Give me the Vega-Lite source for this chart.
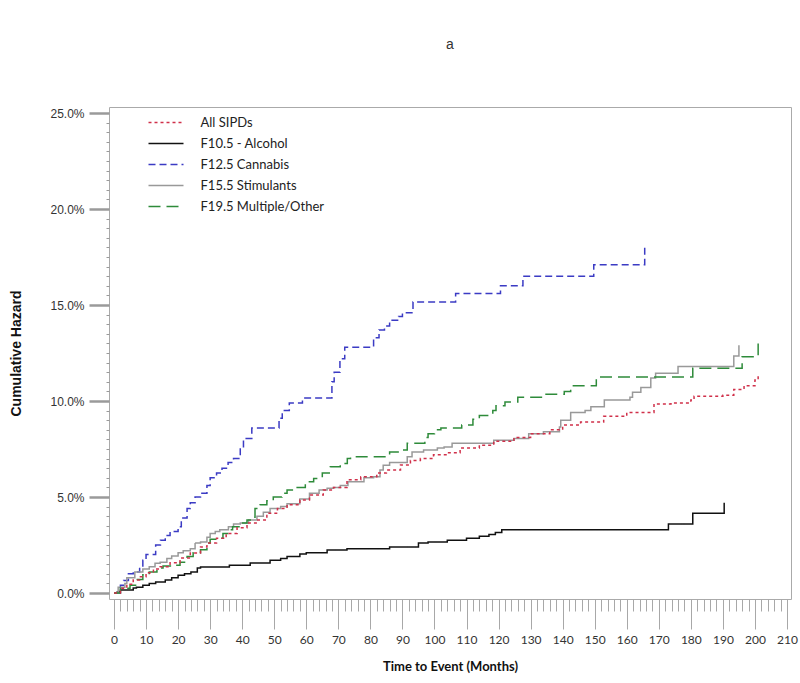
{
  "$schema": "https://vega.github.io/schema/vega-lite/v6.json",
  "width": 682,
  "height": 492,
  "autosize": {"type": "none"},
  "padding": {"left": 109, "top": 107, "right": 9, "bottom": 84},
  "background": "white",
  "title": {"text": "a", "anchor": "middle", "frame": "group", "font": "Liberation Sans", "fontSize": 14, "fontWeight": "normal", "color": "#333333", "offset": 55},
  "config": {
    "view": {"stroke": "#aaaaaa", "strokeWidth": 1},
    "axis": {"grid": false, "domain": false, "labelOverlap": false, "labelFlush": false, "labelBound": false}
  },
  "data": {"values": [
    {"g":"F12.5 Cannabis","t":0,"v":0},{"g":"F12.5 Cannabis","t":2,"v":0.4},{"g":"F12.5 Cannabis","t":3,"v":0.65},{"g":"F12.5 Cannabis","t":4.5,"v":1.0},{"g":"F12.5 Cannabis","t":6,"v":1.1},{"g":"F12.5 Cannabis","t":8,"v":1.35},{"g":"F12.5 Cannabis","t":9,"v":1.7},{"g":"F12.5 Cannabis","t":10,"v":2.0},{"g":"F12.5 Cannabis","t":13,"v":2.5},{"g":"F12.5 Cannabis","t":14.5,"v":2.75},{"g":"F12.5 Cannabis","t":16,"v":3.0},{"g":"F12.5 Cannabis","t":17.5,"v":3.2},{"g":"F12.5 Cannabis","t":20,"v":3.45},{"g":"F12.5 Cannabis","t":21,"v":3.9},{"g":"F12.5 Cannabis","t":22.8,"v":4.4},{"g":"F12.5 Cannabis","t":23.8,"v":4.7},{"g":"F12.5 Cannabis","t":25.3,"v":5.0},{"g":"F12.5 Cannabis","t":27,"v":5.2},{"g":"F12.5 Cannabis","t":29,"v":5.6},{"g":"F12.5 Cannabis","t":30,"v":6.0},{"g":"F12.5 Cannabis","t":32,"v":6.25},{"g":"F12.5 Cannabis","t":33.7,"v":6.5},{"g":"F12.5 Cannabis","t":35.6,"v":6.8},{"g":"F12.5 Cannabis","t":37.3,"v":7.0},{"g":"F12.5 Cannabis","t":39.4,"v":7.55},{"g":"F12.5 Cannabis","t":40.4,"v":8.05},{"g":"F12.5 Cannabis","t":43,"v":8.6},{"g":"F12.5 Cannabis","t":51.5,"v":9.1},{"g":"F12.5 Cannabis","t":52.5,"v":9.5},{"g":"F12.5 Cannabis","t":54.7,"v":9.9},{"g":"F12.5 Cannabis","t":58.8,"v":10.15},{"g":"F12.5 Cannabis","t":68,"v":11.0},{"g":"F12.5 Cannabis","t":68.7,"v":11.5},{"g":"F12.5 Cannabis","t":70.5,"v":12.2},{"g":"F12.5 Cannabis","t":72,"v":12.8},{"g":"F12.5 Cannabis","t":81,"v":13.3},{"g":"F12.5 Cannabis","t":82.7,"v":13.7},{"g":"F12.5 Cannabis","t":84.4,"v":13.9},{"g":"F12.5 Cannabis","t":86,"v":14.2},{"g":"F12.5 Cannabis","t":88.8,"v":14.4},{"g":"F12.5 Cannabis","t":90,"v":14.6},{"g":"F12.5 Cannabis","t":93.3,"v":15.15},{"g":"F12.5 Cannabis","t":106.6,"v":15.6},{"g":"F12.5 Cannabis","t":120.6,"v":16.0},{"g":"F12.5 Cannabis","t":127.6,"v":16.5},{"g":"F12.5 Cannabis","t":149.7,"v":17.1},{"g":"F12.5 Cannabis","t":165.6,"v":18.0},

    {"g":"F10.5 - Alcohol","t":0,"v":0},{"g":"F10.5 - Alcohol","t":1,"v":0.05},{"g":"F10.5 - Alcohol","t":2,"v":0.15},{"g":"F10.5 - Alcohol","t":6,"v":0.26},{"g":"F10.5 - Alcohol","t":7,"v":0.3},{"g":"F10.5 - Alcohol","t":9,"v":0.4},{"g":"F10.5 - Alcohol","t":11,"v":0.5},{"g":"F10.5 - Alcohol","t":13,"v":0.57},{"g":"F10.5 - Alcohol","t":16,"v":0.68},{"g":"F10.5 - Alcohol","t":18,"v":0.8},{"g":"F10.5 - Alcohol","t":20,"v":0.93},{"g":"F10.5 - Alcohol","t":22,"v":1.0},{"g":"F10.5 - Alcohol","t":24,"v":1.1},{"g":"F10.5 - Alcohol","t":26,"v":1.3},{"g":"F10.5 - Alcohol","t":27,"v":1.35},{"g":"F10.5 - Alcohol","t":36,"v":1.45},{"g":"F10.5 - Alcohol","t":42.5,"v":1.56},{"g":"F10.5 - Alcohol","t":48.7,"v":1.7},{"g":"F10.5 - Alcohol","t":52,"v":1.8},{"g":"F10.5 - Alcohol","t":54,"v":1.9},{"g":"F10.5 - Alcohol","t":58,"v":2.03},{"g":"F10.5 - Alcohol","t":60,"v":2.1},{"g":"F10.5 - Alcohol","t":66.5,"v":2.24},{"g":"F10.5 - Alcohol","t":72.7,"v":2.3},{"g":"F10.5 - Alcohol","t":86,"v":2.4},{"g":"F10.5 - Alcohol","t":95,"v":2.6},{"g":"F10.5 - Alcohol","t":98,"v":2.65},{"g":"F10.5 - Alcohol","t":104,"v":2.75},{"g":"F10.5 - Alcohol","t":110,"v":2.85},{"g":"F10.5 - Alcohol","t":114,"v":2.95},{"g":"F10.5 - Alcohol","t":117,"v":3.05},{"g":"F10.5 - Alcohol","t":119,"v":3.15},{"g":"F10.5 - Alcohol","t":121,"v":3.3},{"g":"F10.5 - Alcohol","t":173,"v":3.6},{"g":"F10.5 - Alcohol","t":180.6,"v":4.15},{"g":"F10.5 - Alcohol","t":190.4,"v":4.7},

    {"g":"F15.5 Stimulants","t":0,"v":0},{"g":"F15.5 Stimulants","t":1.3,"v":0.3},{"g":"F15.5 Stimulants","t":3.4,"v":0.5},{"g":"F15.5 Stimulants","t":4,"v":0.8},{"g":"F15.5 Stimulants","t":6.5,"v":1.1},{"g":"F15.5 Stimulants","t":9,"v":1.25},{"g":"F15.5 Stimulants","t":11,"v":1.37},{"g":"F15.5 Stimulants","t":12.8,"v":1.55},{"g":"F15.5 Stimulants","t":14.4,"v":1.6},{"g":"F15.5 Stimulants","t":16.5,"v":1.8},{"g":"F15.5 Stimulants","t":18,"v":1.93},{"g":"F15.5 Stimulants","t":20,"v":2.1},{"g":"F15.5 Stimulants","t":21.6,"v":2.2},{"g":"F15.5 Stimulants","t":23.8,"v":2.3},{"g":"F15.5 Stimulants","t":25.3,"v":2.6},{"g":"F15.5 Stimulants","t":27,"v":2.65},{"g":"F15.5 Stimulants","t":29,"v":2.9},{"g":"F15.5 Stimulants","t":30,"v":3.1},{"g":"F15.5 Stimulants","t":31.6,"v":3.2},{"g":"F15.5 Stimulants","t":33,"v":3.3},{"g":"F15.5 Stimulants","t":35.7,"v":3.45},{"g":"F15.5 Stimulants","t":37.3,"v":3.6},{"g":"F15.5 Stimulants","t":39.4,"v":3.65},{"g":"F15.5 Stimulants","t":42,"v":3.8},{"g":"F15.5 Stimulants","t":44.6,"v":4.0},{"g":"F15.5 Stimulants","t":46.6,"v":4.2},{"g":"F15.5 Stimulants","t":48.7,"v":4.4},{"g":"F15.5 Stimulants","t":52,"v":4.5},{"g":"F15.5 Stimulants","t":54,"v":4.65},{"g":"F15.5 Stimulants","t":58,"v":4.9},{"g":"F15.5 Stimulants","t":61,"v":5.2},{"g":"F15.5 Stimulants","t":64,"v":5.36},{"g":"F15.5 Stimulants","t":66.5,"v":5.45},{"g":"F15.5 Stimulants","t":68.5,"v":5.5},{"g":"F15.5 Stimulants","t":70.6,"v":5.6},{"g":"F15.5 Stimulants","t":73,"v":5.8},{"g":"F15.5 Stimulants","t":78,"v":6.0},{"g":"F15.5 Stimulants","t":81,"v":6.05},{"g":"F15.5 Stimulants","t":83,"v":6.4},{"g":"F15.5 Stimulants","t":84,"v":6.65},{"g":"F15.5 Stimulants","t":86,"v":6.8},{"g":"F15.5 Stimulants","t":91.5,"v":7.1},{"g":"F15.5 Stimulants","t":93,"v":7.35},{"g":"F15.5 Stimulants","t":96.6,"v":7.45},{"g":"F15.5 Stimulants","t":100.9,"v":7.55},{"g":"F15.5 Stimulants","t":103,"v":7.6},{"g":"F15.5 Stimulants","t":105.5,"v":7.8},{"g":"F15.5 Stimulants","t":118.5,"v":7.95},{"g":"F15.5 Stimulants","t":124.8,"v":8.05},{"g":"F15.5 Stimulants","t":129.4,"v":8.3},{"g":"F15.5 Stimulants","t":134,"v":8.4},{"g":"F15.5 Stimulants","t":139,"v":8.65},{"g":"F15.5 Stimulants","t":139.4,"v":9.0},{"g":"F15.5 Stimulants","t":142.5,"v":9.4},{"g":"F15.5 Stimulants","t":147,"v":9.5},{"g":"F15.5 Stimulants","t":148.8,"v":9.7},{"g":"F15.5 Stimulants","t":153,"v":10.05},{"g":"F15.5 Stimulants","t":161,"v":10.2},{"g":"F15.5 Stimulants","t":161.8,"v":10.45},{"g":"F15.5 Stimulants","t":164.4,"v":10.7},{"g":"F15.5 Stimulants","t":167.5,"v":11.2},{"g":"F15.5 Stimulants","t":169,"v":11.45},{"g":"F15.5 Stimulants","t":176,"v":11.8},{"g":"F15.5 Stimulants","t":193.4,"v":12.35},{"g":"F15.5 Stimulants","t":195,"v":12.9},

    {"g":"F19.5 Multiple/Other","t":0,"v":0},{"g":"F19.5 Multiple/Other","t":2,"v":0.25},{"g":"F19.5 Multiple/Other","t":5,"v":0.4},{"g":"F19.5 Multiple/Other","t":7,"v":0.7},{"g":"F19.5 Multiple/Other","t":9,"v":0.95},{"g":"F19.5 Multiple/Other","t":11,"v":1.1},{"g":"F19.5 Multiple/Other","t":13.4,"v":1.3},{"g":"F19.5 Multiple/Other","t":15.3,"v":1.4},{"g":"F19.5 Multiple/Other","t":18,"v":1.45},{"g":"F19.5 Multiple/Other","t":20.6,"v":1.6},{"g":"F19.5 Multiple/Other","t":22.8,"v":1.9},{"g":"F19.5 Multiple/Other","t":24.7,"v":2.1},{"g":"F19.5 Multiple/Other","t":27,"v":2.25},{"g":"F19.5 Multiple/Other","t":29,"v":2.6},{"g":"F19.5 Multiple/Other","t":30,"v":2.8},{"g":"F19.5 Multiple/Other","t":32,"v":2.85},{"g":"F19.5 Multiple/Other","t":34,"v":3.1},{"g":"F19.5 Multiple/Other","t":36,"v":3.3},{"g":"F19.5 Multiple/Other","t":37,"v":3.45},{"g":"F19.5 Multiple/Other","t":39.4,"v":3.65},{"g":"F19.5 Multiple/Other","t":41.5,"v":3.8},{"g":"F19.5 Multiple/Other","t":43.5,"v":3.95},{"g":"F19.5 Multiple/Other","t":44,"v":4.4},{"g":"F19.5 Multiple/Other","t":45.6,"v":4.6},{"g":"F19.5 Multiple/Other","t":47.7,"v":4.8},{"g":"F19.5 Multiple/Other","t":49.7,"v":5.0},{"g":"F19.5 Multiple/Other","t":52.4,"v":5.2},{"g":"F19.5 Multiple/Other","t":54,"v":5.36},{"g":"F19.5 Multiple/Other","t":56.6,"v":5.5},{"g":"F19.5 Multiple/Other","t":59.7,"v":5.8},{"g":"F19.5 Multiple/Other","t":62.3,"v":5.97},{"g":"F19.5 Multiple/Other","t":65,"v":6.25},{"g":"F19.5 Multiple/Other","t":67.5,"v":6.57},{"g":"F19.5 Multiple/Other","t":70.6,"v":6.75},{"g":"F19.5 Multiple/Other","t":72.8,"v":7.0},{"g":"F19.5 Multiple/Other","t":73.8,"v":7.1},{"g":"F19.5 Multiple/Other","t":86,"v":7.35},{"g":"F19.5 Multiple/Other","t":89.4,"v":7.45},{"g":"F19.5 Multiple/Other","t":91.5,"v":7.8},{"g":"F19.5 Multiple/Other","t":97,"v":8.1},{"g":"F19.5 Multiple/Other","t":98,"v":8.3},{"g":"F19.5 Multiple/Other","t":100,"v":8.5},{"g":"F19.5 Multiple/Other","t":102,"v":8.6},{"g":"F19.5 Multiple/Other","t":108.5,"v":8.75},{"g":"F19.5 Multiple/Other","t":112,"v":9.05},{"g":"F19.5 Multiple/Other","t":114,"v":9.25},{"g":"F19.5 Multiple/Other","t":118.2,"v":9.5},{"g":"F19.5 Multiple/Other","t":119.2,"v":9.75},{"g":"F19.5 Multiple/Other","t":122,"v":9.95},{"g":"F19.5 Multiple/Other","t":126,"v":10.2},{"g":"F19.5 Multiple/Other","t":134,"v":10.35},{"g":"F19.5 Multiple/Other","t":140.5,"v":10.5},{"g":"F19.5 Multiple/Other","t":142.5,"v":10.8},{"g":"F19.5 Multiple/Other","t":150.5,"v":11.25},{"g":"F19.5 Multiple/Other","t":180.6,"v":11.7},{"g":"F19.5 Multiple/Other","t":196,"v":12.3},{"g":"F19.5 Multiple/Other","t":201,"v":13.0},

    {"g":"All SIPDs","t":0,"v":0},{"g":"All SIPDs","t":2,"v":0.25},{"g":"All SIPDs","t":4,"v":0.45},{"g":"All SIPDs","t":6,"v":0.68},{"g":"All SIPDs","t":8,"v":0.85},{"g":"All SIPDs","t":10,"v":1.05},{"g":"All SIPDs","t":12.3,"v":1.25},{"g":"All SIPDs","t":14.4,"v":1.37},{"g":"All SIPDs","t":17.5,"v":1.57},{"g":"All SIPDs","t":20.6,"v":1.82},{"g":"All SIPDs","t":23.8,"v":2.08},{"g":"All SIPDs","t":27,"v":2.4},{"g":"All SIPDs","t":29,"v":2.6},{"g":"All SIPDs","t":32,"v":2.85},{"g":"All SIPDs","t":35,"v":3.1},{"g":"All SIPDs","t":38.4,"v":3.4},{"g":"All SIPDs","t":41.5,"v":3.65},{"g":"All SIPDs","t":44.6,"v":3.8},{"g":"All SIPDs","t":47.7,"v":4.15},{"g":"All SIPDs","t":51,"v":4.4},{"g":"All SIPDs","t":54,"v":4.6},{"g":"All SIPDs","t":58,"v":4.85},{"g":"All SIPDs","t":61,"v":5.1},{"g":"All SIPDs","t":65.3,"v":5.36},{"g":"All SIPDs","t":68.5,"v":5.5},{"g":"All SIPDs","t":72.7,"v":5.9},{"g":"All SIPDs","t":77,"v":6.05},{"g":"All SIPDs","t":82,"v":6.25},{"g":"All SIPDs","t":85,"v":6.4},{"g":"All SIPDs","t":89.4,"v":6.67},{"g":"All SIPDs","t":92.5,"v":6.9},{"g":"All SIPDs","t":95.6,"v":7.0},{"g":"All SIPDs","t":99.7,"v":7.2},{"g":"All SIPDs","t":104,"v":7.3},{"g":"All SIPDs","t":108,"v":7.55},{"g":"All SIPDs","t":114,"v":7.7},{"g":"All SIPDs","t":118.5,"v":7.9},{"g":"All SIPDs","t":124.8,"v":8.1},{"g":"All SIPDs","t":130,"v":8.3},{"g":"All SIPDs","t":136,"v":8.5},{"g":"All SIPDs","t":140,"v":8.75},{"g":"All SIPDs","t":145.6,"v":8.9},{"g":"All SIPDs","t":152.8,"v":9.2},{"g":"All SIPDs","t":160,"v":9.4},{"g":"All SIPDs","t":168.5,"v":9.85},{"g":"All SIPDs","t":173.8,"v":9.9},{"g":"All SIPDs","t":180,"v":10.05},{"g":"All SIPDs","t":181,"v":10.25},{"g":"All SIPDs","t":190,"v":10.3},{"g":"All SIPDs","t":193.4,"v":10.6},{"g":"All SIPDs","t":196.6,"v":10.8},{"g":"All SIPDs","t":200,"v":11.1},{"g":"All SIPDs","t":201,"v":11.35}
  ]},
  "mark": {"type": "line", "interpolate": "step-after", "strokeWidth": 1.5, "clip": true},
  "encoding": {
    "x": {"field": "t", "type": "quantitative",
      "scale": {"domain": [-1.56, 211.25], "nice": false, "zero": false},
      "axis": {
        "title": "Time to Event (Months)",
        "values": [0,2,4,6,8,10,12,14,16,18,20,22,24,26,28,30,32,34,36,38,40,42,44,46,48,50,52,54,56,58,60,62,64,66,68,70,72,74,76,78,80,82,84,86,88,90,92,94,96,98,100,102,104,106,108,110,112,114,116,118,120,122,124,126,128,130,132,134,136,138,140,142,144,146,148,150,152,154,156,158,160,162,164,166,168,170,172,174,176,178,180,182,184,186,188,190,192,194,196,198,200,202,204,206,208,210],
        "labelExpr": "datum.value % 10 === 0 ? '' + datum.value : ''",
        "tickSize": {"condition": {"test": "datum.value % 10 === 0", "value": 30}, "value": 12},
        "tickColor": "#a8a8a8",
        "tickWidth": 1,
        "labelFont": "Lato", "labelFontSize": 12, "labelColor": "#333333", "labelPadding": 5,
        "titleFont": "Lato", "titleFontSize": 13, "titleFontWeight": "bold", "titleColor": "#111111", "titlePadding": 15
      }},
    "y": {"field": "v", "type": "quantitative",
      "scale": {"domain": [-0.3125, 25.3125], "nice": false, "zero": false},
      "axis": {
        "title": "Cumulative Hazard",
        "values": [0,0.5,1,1.5,2,2.5,3,3.5,4,4.5,5,5.5,6,6.5,7,7.5,8,8.5,9,9.5,10,10.5,11,11.5,12,12.5,13,13.5,14,14.5,15,15.5,16,16.5,17,17.5,18,18.5,19,19.5,20,20.5,21,21.5,22,22.5,23,23.5,24,24.5,25],
        "labelExpr": "datum.value % 5 === 0 ? format(datum.value, '.1f') + '%' : ''",
        "tickSize": {"condition": {"test": "datum.value % 5 === 0", "value": 20}, "value": 3},
        "tickWidth": {"condition": {"test": "datum.value % 5 === 0", "value": 2.5}, "value": 1},
        "tickColor": "#9a9a9a",
        "labelFont": "Liberation Sans", "labelFontSize": 12, "labelColor": "#333333", "labelPadding": 5,
        "titleFont": "Liberation Sans", "titleFontSize": 14, "titleFontWeight": "bold", "titleColor": "#111111", "titlePadding": 26
      }},
    "color": {"field": "g", "type": "nominal",
      "scale": {"domain": ["All SIPDs", "F10.5 - Alcohol", "F12.5 Cannabis", "F15.5 Stimulants", "F19.5 Multiple/Other"],
                "range": ["#d0304a", "#111111", "#3b3bc4", "#999999", "#2e8b3a"]},
      "legend": {"title": null, "orient": "none", "legendX": 50.5, "legendY": 9, "symbolType": "M-3.5,0L3.5,0", "symbolSize": 100, "symbolStrokeWidth": 1.5, "labelFont": "Lato", "labelFontSize": 13, "labelColor": "#222222", "labelOffset": 28, "rowPadding": 7, "padding": 0}},
    "strokeDash": {"field": "g", "type": "nominal",
      "scale": {"domain": ["All SIPDs", "F10.5 - Alcohol", "F12.5 Cannabis", "F15.5 Stimulants", "F19.5 Multiple/Other"],
                "range": [[3, 3], [1, 0], [7, 4], [1, 0], [12, 6]]},
      "legend": {"title": null, "orient": "none", "legendX": 50.5, "legendY": 9, "symbolType": "M-3.5,0L3.5,0", "symbolSize": 100, "symbolStrokeWidth": 1.5, "labelFont": "Lato", "labelFontSize": 13, "labelColor": "#222222", "labelOffset": 28, "rowPadding": 7, "padding": 0}}
  }
}
